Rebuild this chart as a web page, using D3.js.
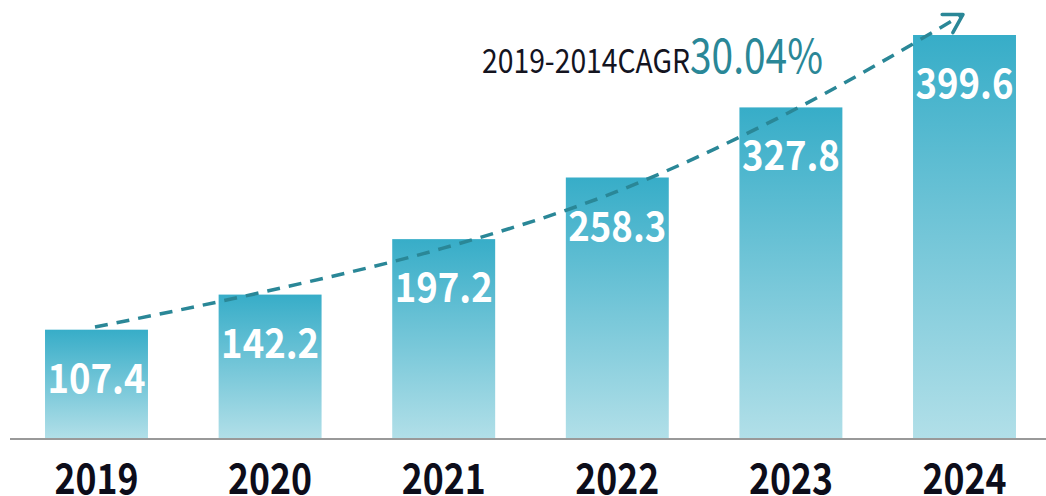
<!DOCTYPE html>
<html>
<head>
<meta charset="utf-8">
<script src="https://cdn.jsdelivr.net/npm/d3@7"></script>
<style>
  html, body { margin: 0; padding: 0; background: #fff; }
  svg { display: block; }
  text { font-family: "Noto Sans CJK SC", "Noto Sans", sans-serif; }
</style>
</head>
<body>
<div id="chart"></div>
<script>
// chart data
const years = ["2019", "2020", "2021", "2022", "2023", "2024"];
const values = [107.4, 142.2, 197.2, 258.3, 327.8, 399.6];
// dashed growth curve (value at each year)
const trendValues = [110, 146, 188, 244, 323, 420];
const cagrLabel = "2019-2014CAGR";
const cagrValue = "30.04%";

const W = 1046, H = 496;

const svg = d3.select("#chart")
    .append("svg")
    .attr("width", W)
    .attr("height", H);

const defs = svg.append("defs");

// bar gradient, dark teal at the top fading to pale at the base
const grad = defs.append("linearGradient")
    .attr("id", "barGrad")
    .attr("x1", 0).attr("y1", 0)
    .attr("x2", 0).attr("y2", 1);
grad.append("stop").attr("offset", "0%").attr("stop-color", "#37adc8");
grad.append("stop").attr("offset", "100%").attr("stop-color", "#b1dfe8");

// open arrow head for the trend curve
defs.append("marker")
    .attr("id", "arrow")
    .attr("markerUnits", "userSpaceOnUse")
    .attr("viewBox", "-22 -14 26 28")
    .attr("markerWidth", 26)
    .attr("markerHeight", 28)
    .attr("refX", 0)
    .attr("refY", 0)
    .attr("orient", "auto")
    .append("path")
    .attr("d", "M-18,-10.5 L0,0 L-18,10.5")
    .attr("fill", "none")
    .attr("stroke", "#2a8797")
    .attr("stroke-width", 3.5)
    .attr("stroke-linecap", "round")
    .attr("stroke-linejoin", "round");

// scales
const xScale = d3.scaleBand()
    .domain(years)
    .range([10.3, 1050.7])
    .paddingInner(0.407)
    .paddingOuter(0.2);

const yScale = d3.scaleLinear()
    .domain([0, 399.6])
    .range([438, 35]);

// bars
svg.selectAll(".bar")
    .data(years)
    .enter().append("rect")
    .attr("class", "bar")
    .attr("x", d => xScale(d))
    .attr("y", (d, i) => yScale(values[i]))
    .attr("width", xScale.bandwidth())
    .attr("height", (d, i) => yScale(0) - yScale(values[i]))
    .attr("fill", "url(#barGrad)");

// baseline
svg.append("line")
    .attr("x1", 10)
    .attr("x2", W)
    .attr("y1", yScale(0) + 1)
    .attr("y2", yScale(0) + 1)
    .attr("stroke", "#999")
    .attr("stroke-width", 2.2);

// value labels inside bars
svg.selectAll(".val")
    .data(years)
    .enter().append("text")
    .attr("class", "val")
    .attr("x", d => xScale(d) + xScale.bandwidth() / 2)
    .attr("y", (d, i) => yScale(values[i]) + 63)
    .attr("text-anchor", "middle")
    .attr("fill", "#fff")
    .style("font-size", "40px")
    .style("font-weight", "bold")
    .attr("textLength", 98)
    .attr("lengthAdjust", "spacingAndGlyphs")
    .text((d, i) => values[i].toFixed(1));

// year labels
svg.selectAll(".year")
    .data(years)
    .enter().append("text")
    .attr("class", "year")
    .attr("x", d => xScale(d) + xScale.bandwidth() / 2)
    .attr("y", 494)
    .attr("text-anchor", "middle")
    .attr("fill", "#0d0d1a")
    .style("font-size", "42px")
    .style("font-weight", "bold")
    .attr("textLength", 84)
    .attr("lengthAdjust", "spacingAndGlyphs")
    .text(d => d);

// dashed growth curve
const trendLine = d3.line()
    .x((d, i) => xScale(years[i]) + xScale.bandwidth() / 2 - 1.5)
    .y(d => yScale(d))
    .curve(d3.curveMonotoneX);

svg.append("path")
    .datum(trendValues)
    .attr("d", trendLine)
    .attr("fill", "none")
    .attr("stroke", "#2a8797")
    .attr("stroke-width", 3.5)
    .attr("stroke-dasharray", "13,9")
    .attr("marker-end", "url(#arrow)");

// CAGR annotation
const note = svg.append("text")
    .attr("x", 482)
    .attr("y", 73);
note.append("tspan")
    .attr("fill", "#14141f")
    .style("font-size", "33px")
    .attr("textLength", 208)
    .attr("lengthAdjust", "spacingAndGlyphs")
    .text(cagrLabel);
note.append("tspan")
    .attr("fill", "#2a8797")
    .style("font-size", "47px")
    .attr("textLength", 133)
    .attr("lengthAdjust", "spacingAndGlyphs")
    .text(cagrValue);
</script>
</body>
</html>
